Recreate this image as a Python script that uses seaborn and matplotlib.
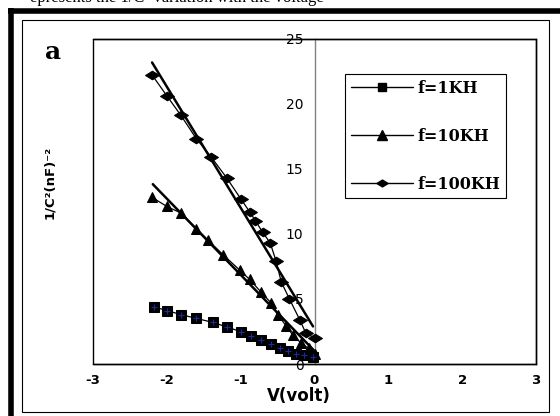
import numpy as np
import pandas as pd
import matplotlib
matplotlib.use("Agg")
import matplotlib.pyplot as plt
import seaborn as sns
from matplotlib.path import Path
from matplotlib.lines import Line2D
from matplotlib.patches import Rectangle

# ---- data ----
x_1k = [-2.18, -2.0, -1.81, -1.6, -1.38, -1.19, -0.99, -0.86, -0.72, -0.59, -0.47, -0.36, -0.25, -0.14, -0.02]
y_1k = [4.4, 4.1, 3.8, 3.5, 3.2, 2.85, 2.47, 2.14, 1.83, 1.53, 1.25, 1.0, 0.8, 0.7, 0.55]

x_10k = [-2.2, -2.0, -1.81, -1.6, -1.44, -1.24, -1.01, -0.88, -0.72, -0.59, -0.5, -0.38, -0.29, -0.18, -0.08, 0.0]
y_10k = [12.8, 12.1, 11.6, 10.4, 9.5, 8.4, 7.2, 6.5, 5.5, 4.7, 3.8, 2.9, 2.2, 1.6, 1.2, 0.8]

x_100k = [-2.2, -2.0, -1.81, -1.6, -1.4, -1.19, -1.0, -0.88, -0.8, -0.7, -0.6, -0.52, -0.45, -0.34, -0.2, -0.12, 0.0]
y_100k = [22.2, 20.6, 19.1, 17.3, 15.9, 14.3, 12.7, 11.7, 11.0, 10.1, 9.3, 7.9, 6.3, 5.0, 3.4, 2.4, 2.0]

# linear fits (slope, intercept, x-range)
fit_10k = {"slope": -5.85, "intercept": 1.0, "x": [-2.19, 0.02]}
fit_100k = {"slope": -9.3, "intercept": 2.7, "x": [-2.2, -0.02]}

labels = ["f=1KH", "f=10KH", "f=100KH"]
x_ticks = [-3, -2, -1, 0, 1, 2, 3]
y_ticks = [0, 5, 10, 15, 20, 25]

# ---- figure ----
sns.set_style("white")
plt.rcParams.update({"text.color": "black", "xtick.color": "black",
                     "ytick.color": "black", "axes.labelcolor": "black"})
W, H = 560, 416
fig = plt.figure(figsize=(W / 100, H / 100), dpi=100)

def fx(px):
    return px / W

def fy(py):
    return 1 - py / H

ax = fig.add_axes([fx(93), fy(364), fx(536) - fx(93), fy(38.5) - fy(364)])

diamond = Path([(-1, 0), (0, 0.62), (1, 0), (0, -0.62), (-1, 0)],
               [Path.MOVETO, Path.LINETO, Path.LINETO, Path.LINETO, Path.CLOSEPOLY])

df1 = pd.DataFrame({"x": x_1k, "y": y_1k})
df10 = pd.DataFrame({"x": x_10k, "y": y_10k})
df100 = pd.DataFrame({"x": x_100k, "y": y_100k})

sns.lineplot(data=df1, x="x", y="y", ax=ax, color="black", lw=0.9, marker="s",
             markersize=7, markerfacecolor="black", markeredgecolor="black", zorder=3)
ax.plot(df1["x"], df1["y"], ls="none", marker="+", color="#1a2aa0", ms=4, mew=0.8, zorder=3.5)
sns.lineplot(data=df10, x="x", y="y", ax=ax, color="black", lw=0.9, marker="^",
             markersize=7.5, markerfacecolor="black", markeredgecolor="black", zorder=3)
sns.lineplot(data=df100, x="x", y="y", ax=ax, color="black", lw=0.9, marker=diamond,
             markersize=10, markerfacecolor="black", markeredgecolor="black", zorder=3)

for fit in (fit_10k, fit_100k):
    xs = np.array(fit["x"])
    ax.plot(xs, fit["slope"] * xs + fit["intercept"], color="black", lw=1.8, zorder=4)

ax.set_xlim(-3, 3)
ax.set_ylim(0, 25)
ax.set_xticks(x_ticks)
ax.set_yticks(y_ticks)
ax.set_axisbelow(True)

tick_font = dict(family="DejaVu Sans", weight="bold", size=9.5, color="black")
ax.set_xticklabels([str(t) for t in x_ticks], fontdict=tick_font)
ax.set_yticklabels([str(t) for t in y_ticks], fontdict=tick_font)
ax.tick_params(axis="x", direction="out", length=4, width=0.8, color="black", pad=3)
ax.tick_params(axis="y", direction="out", length=6, width=0.8, color="#777777", pad=2)

ax.spines["left"].set_position(("data", 0))
ax.spines["left"].set_color("#808080")
ax.spines["left"].set_linewidth(1.0)
ax.spines["bottom"].set_color("black")
ax.spines["bottom"].set_linewidth(1.0)
for s in ("top", "right"):
    ax.spines[s].set_color("black")
    ax.spines[s].set_linewidth(1.0)
ax.add_patch(Rectangle((0, 0), 1, 1, transform=ax.transAxes, fill=False,
                       edgecolor="black", lw=1.0, clip_on=False, zorder=1))

ax.set_xlabel("")
ax.set_ylabel("")
fig.text(fx(299), fy(396), "V(volt)", ha="center", va="center",
         family="DejaVu Sans", weight="bold", size=12)
fig.text(fx(50), fy(182), "1/C²(nF)⁻²", ha="center", va="center", rotation=90,
         family="DejaVu Sans", weight="bold", size=9.5)
fig.text(fx(53), fy(52), "a", ha="center", va="center",
         family="DejaVu Serif", weight="bold", size=18)

# legend
handles = [
    Line2D([], [], color="black", lw=1.0, marker="s", ms=6, mfc="black", mec="black"),
    Line2D([], [], color="black", lw=1.0, marker="^", ms=7, mfc="black", mec="black"),
    Line2D([], [], color="black", lw=1.0, marker=diamond, ms=8, mfc="black", mec="black"),
]
leg = ax.legend(handles, labels, loc="upper left",
                bbox_to_anchor=((345 - 93) / 443, (364 - 74) / 325.5),
                prop=dict(family="DejaVu Serif", weight="bold", size=11.5),
                frameon=True, fancybox=False, edgecolor="black", framealpha=1,
                handlelength=3.9, handletextpad=0.3, labelspacing=1.95,
                borderpad=0.35, borderaxespad=0)
leg.get_frame().set_linewidth(0.8)
for t in leg.get_texts():
    t.set_color("black")

# page decorations
fig.add_artist(Line2D([fx(10.5), fx(10.5)], [fy(8), fy(416)], color="black", lw=4.0,
                      solid_capstyle="butt"))
fig.add_artist(Line2D([fx(8), fx(560)], [fy(10.5), fy(10.5)], color="black", lw=4.0,
                      solid_capstyle="butt"))
fig.add_artist(Rectangle((fx(22), fy(412)), fx(549) - fx(22), fy(20) - fy(412),
                         transform=fig.transFigure, fill=False, edgecolor="black", lw=0.8))
fig.text(fx(30), fy(2), "epresents the 1/C² variation with the voltage",
         ha="left", va="baseline", family="Liberation Serif", size=12)

fig.savefig("out.png", dpi=100)
